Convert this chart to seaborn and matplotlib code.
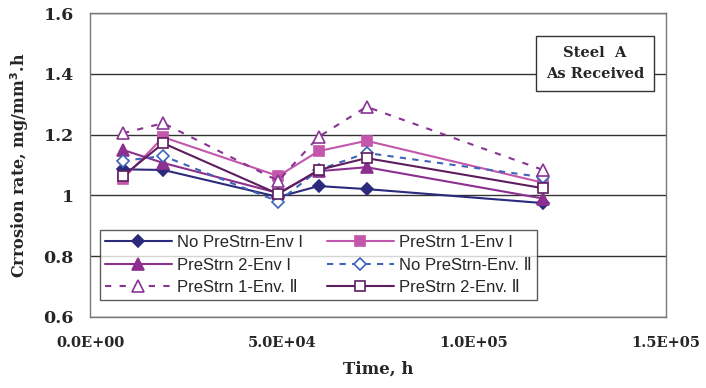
import matplotlib

matplotlib.use("Agg")
import matplotlib.pyplot as plt
import pandas as pd
import seaborn as sns
from matplotlib.ticker import FuncFormatter, MultipleLocator

# time (h) of each measurement
time_h = [8500, 19000, 49000, 59500, 72000, 118000]

no_prestrn_env1 = [1.086, 1.084, 0.995, 1.031, 1.021, 0.975]
prestrn1_env1 = [1.055, 1.192, 1.064, 1.146, 1.180, 1.042]
prestrn2_env1 = [1.150, 1.107, 1.008, 1.080, 1.093, 0.990]
no_prestrn_env2 = [1.114, 1.130, 0.980, 1.084, 1.140, 1.060]
prestrn1_env2 = [1.205, 1.238, 1.048, 1.193, 1.292, 1.084]
prestrn2_env2 = [1.064, 1.172, 1.005, 1.084, 1.123, 1.024]

series_labels = [
    "No PreStrn-Env I", "PreStrn 1-Env I", "PreStrn 2-Env I",
    "No PreStrn-Env. Ⅱ", "PreStrn 1-Env. Ⅱ", "PreStrn 2-Env. Ⅱ",
]
series_values = [no_prestrn_env1, prestrn1_env1, prestrn2_env1,
                 no_prestrn_env2, prestrn1_env2, prestrn2_env2]

styles = [
    dict(color="#2b2a7c", marker="D", ms=6, mfc="#2b2a7c", ls="-"),
    dict(color="#c257ac", marker="s", ms=7, mfc="#c257ac", ls="-"),
    dict(color="#8c2f8e", marker="^", ms=8, mfc="#8c2f8e", ls="-"),
    dict(color="#3e65b8", marker="D", ms=6, mfc="white", ls=(0, (3, 3))),
    dict(color="#8a3393", marker="^", ms=8, mfc="white", ls=(0, (3, 4))),
    dict(color="#5c1e5e", marker="s", ms=7, mfc="white", ls="-"),
]

sns.set_style("white")
plt.rcParams["font.family"] = ["DejaVu Serif"]

fig = plt.figure(figsize=(7.06, 3.88), dpi=100)
ax = fig.add_axes([0.128, 0.183, 0.815, 0.783])

for label, vals, st in zip(series_labels, series_values, styles):
    df = pd.DataFrame({"time": time_h, "rate": vals})
    sns.lineplot(data=df, x="time", y="rate", ax=ax, label=label,
                 color=st["color"], marker=st["marker"], markersize=st["ms"],
                 markerfacecolor=st["mfc"], markeredgecolor=st["color"],
                 markeredgewidth=1.2, linestyle=st["ls"], linewidth=1.5)

ax.set_xlim(0, 150000)
ax.set_ylim(0.6, 1.6)
ax.xaxis.set_major_locator(MultipleLocator(50000))
ax.yaxis.set_major_locator(MultipleLocator(0.2))
ax.xaxis.set_major_formatter(FuncFormatter(lambda v, p: f"{v:.1E}"))
ax.yaxis.set_major_formatter(FuncFormatter(lambda v, p: f"{v:g}"))
ax.grid(axis="y", color="#333333", linewidth=1.0)
ax.set_axisbelow(True)
for s in ax.spines.values():
    s.set_color("#777777")
    s.set_linewidth(1.0)
ax.tick_params(axis="x", direction="in", length=5, color="#333333", labelsize=10.5, pad=14)
ax.tick_params(axis="y", length=0, labelsize=12.5, pad=12)
for t in ax.get_xticklabels() + ax.get_yticklabels():
    t.set_fontweight("bold")

ax.set_xlabel("Time, h", fontsize=12, fontweight="bold", labelpad=7)
ax.set_ylabel("Crrosion rate, mg/mm$^\\mathbf{3}$.h", fontsize=11.5,
              fontweight="bold", labelpad=9)

# legend is filled row by row in the reference
handles, labels = ax.get_legend_handles_labels()
order = [0, 2, 4, 1, 3, 5]
leg = ax.legend([handles[i] for i in order], [labels[i] for i in order],
                loc="upper left", bbox_to_anchor=(0.0165, 0.0, 0.759, 0.286),
                mode="expand", ncol=2,
                prop={"family": ["Liberation Sans", "DejaVu Sans"], "size": 12},
                frameon=True, fancybox=False, handlelength=4.0, columnspacing=0.8,
                handletextpad=0.3, borderpad=0.3, labelspacing=0.45,
                borderaxespad=0)
leg.get_frame().set_edgecolor("#333333")
leg.get_frame().set_linewidth(1.0)

ax.text(0.877, 0.835, "Steel  A\nAs Received", transform=ax.transAxes,
        ha="center", va="center", fontsize=10.5, fontweight="bold",
        linespacing=1.6,
        bbox=dict(boxstyle="square,pad=0.7", facecolor="white",
                  edgecolor="#333333", linewidth=1.0))

fig.savefig("out.png", dpi=100)
